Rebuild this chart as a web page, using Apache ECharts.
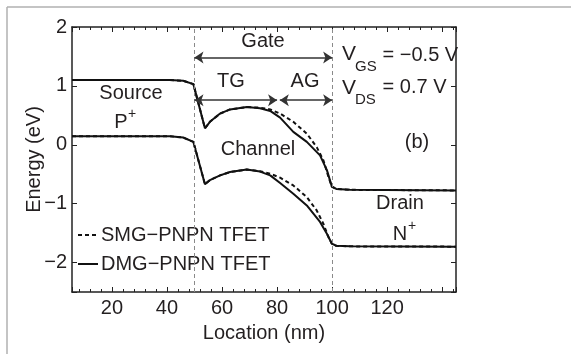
<!DOCTYPE html>
<html>
<head>
<meta charset="utf-8">
<script src="https://cdn.jsdelivr.net/npm/echarts@6/dist/echarts.min.js"></script>
<style>
html,body{margin:0;padding:0;background:#fff}
#chart{width:571px;height:354px}
</style>
</head>
<body>
<div id="chart"></div>
<script>
// band edges (eV) along the device (nm)
var xDMG = [5.5, 41.1, 45.9, 49.6, 53.8, 55.6, 59.3, 62.9, 69, 73.8, 77.5, 81.1, 85.9, 90.8, 95.6, 98.1, 99.9, 101.5, 106.5, 145];
var ecDMG = [1.10, 1.10, 1.086, 1.03, 0.28, 0.39, 0.53, 0.60, 0.64, 0.62, 0.575, 0.46, 0.22, 0.05, -0.18, -0.43, -0.71, -0.75, -0.765, -0.775];
var evDMG = [0.145, 0.145, 0.123, 0.048, -0.67, -0.60, -0.52, -0.463, -0.42, -0.455, -0.52, -0.65, -0.83, -1.03, -1.31, -1.51, -1.68, -1.715, -1.725, -1.73];

var xSMG = [5.5, 41.1, 45.9, 49.6, 53.8, 55.6, 59.3, 62.9, 69, 73.8, 77.5, 81.1, 85.9, 90.8, 94.4, 96.8, 98.7, 99.9, 101.5, 106.5, 145];
var ecSMG = [1.10, 1.10, 1.086, 1.03, 0.28, 0.39, 0.53, 0.60, 0.64, 0.63, 0.60, 0.53, 0.39, 0.19, -0.04, -0.26, -0.55, -0.71, -0.75, -0.765, -0.775];
var evSMG = [0.145, 0.145, 0.123, 0.048, -0.67, -0.60, -0.52, -0.463, -0.42, -0.45, -0.49, -0.558, -0.69, -0.889, -1.115, -1.34, -1.57, -1.68, -1.715, -1.725, -1.73];

var xLabels = [20, 40, 60, 80, 100, 120];
var yLabels = [-2, -1, 0, 1, 2];
var regionEdges = [50, 100];          // dashed lines: source/channel, channel/drain
var gateArrow = [50, 100, 1.48];      // from, to, level
var tgArrow = [50, 80, 0.757];
var agArrow = [81, 100, 0.757];

var FONT = "'Liberation Sans', Arial, sans-serif";
var INK = '#231f20';

var pairs = function(xs, ys){
  var out = [];
  for(var i=0;i<xs.length;i++){ out.push([xs[i], ys[i]]); }
  return out;
};

var txt = function(s, x, y, size, align){
  return {type:'text', x:x, y:y, silent:true, z:100,
    style:{text:s, fill:INK, font: size+'px '+FONT, align: align||'center', verticalAlign:'middle'}};
};

var arrowItem = function(a){
  return [{coord:[a[0], a[2]], symbol:'arrow'}, {coord:[a[1], a[2]], symbol:'arrow'}];
};

var dashStyle = {color:'#111', width:2, type:[4,3]};
var solidStyle = {color:'#111', width:2};

var myChart = echarts.init(document.getElementById('chart'));
var option = {
  animation:false,
  backgroundColor:'#fff',
  grid:{left:72, top:27, right:115, bottom:62},
  legend:{
    left:77, top:225, padding:0, orient:'vertical', selectedMode:false,
    itemWidth:20, itemHeight:14, itemGap:9,
    itemStyle:{opacity:0},
    data:['SMG\u2212PNPN TFET','DMG\u2212PNPN TFET'],
    textStyle:{fontSize:20, color:INK, fontFamily:FONT, padding:[0,0,0,-2]}
  },
  xAxis:[{
    type:'value', min:5.5, max:145, splitNumber:7, position:'bottom',
    name:'Location (nm)', nameLocation:'middle', nameGap:31, nameMoveOverlap:false,
    nameTextStyle:{fontSize:20, color:INK, fontFamily:FONT},
    axisLine:{onZero:false, lineStyle:{color:'#222', width:1.5}},
    axisTick:{inside:true, length:5, lineStyle:{color:'#222'}},
    minorTick:{show:true, splitNumber:5, length:3, lineStyle:{color:'#222'}},
    splitLine:{show:false},
    axisLabel:{fontSize:20, color:INK, fontFamily:FONT, margin:6,
      formatter:function(v){ return xLabels.indexOf(v) >= 0 ? String(v) : ''; }}
  },{
    type:'value', min:5.5, max:145, splitNumber:7, position:'top',
    axisLine:{onZero:false, lineStyle:{color:'#222', width:1.5}},
    axisTick:{inside:true, length:5, lineStyle:{color:'#222'}},
    minorTick:{show:true, splitNumber:5, length:3, lineStyle:{color:'#222'}},
    splitLine:{show:false}, axisLabel:{show:false}
  }],
  yAxis:[{
    type:'value', min:-2.5, max:2, splitNumber:5, position:'left',
    name:'Energy (eV)', nameLocation:'middle', nameGap:28, nameMoveOverlap:false,
    nameTextStyle:{fontSize:20, color:INK, fontFamily:FONT},
    axisLine:{show:true, onZero:false, lineStyle:{color:'#222', width:1.5}},
    axisTick:{show:true, inside:true, length:5, lineStyle:{color:'#222'}},
    splitLine:{show:false},
    axisLabel:{fontSize:20, color:INK, fontFamily:FONT, margin:5,
      formatter:function(v){ return yLabels.indexOf(v) >= 0 ? String(v).replace('-', '\u2212') : ''; }}
  },{
    type:'value', min:-2.5, max:2, splitNumber:5, position:'right',
    axisLine:{show:true, onZero:false, lineStyle:{color:'#222', width:1.5}},
    axisTick:{show:true, inside:true, length:5, lineStyle:{color:'#222'}},
    splitLine:{show:false}, axisLabel:{show:false}
  }],
  series:[
    {name:'SMG\u2212PNPN TFET', type:'line', symbol:'none', data:pairs(xSMG, ecSMG), lineStyle:dashStyle, itemStyle:{color:'#111'}, z:3},
    {name:'SMG\u2212PNPN TFET', type:'line', symbol:'none', data:pairs(xSMG, evSMG), lineStyle:dashStyle, itemStyle:{color:'#111'}, z:3},
    {name:'DMG\u2212PNPN TFET', type:'line', symbol:'none', data:pairs(xDMG, ecDMG), lineStyle:solidStyle, itemStyle:{color:'#111'}, z:4},
    {name:'DMG\u2212PNPN TFET', type:'line', symbol:'none', data:pairs(xDMG, evDMG), lineStyle:solidStyle, itemStyle:{color:'#111'}, z:4},
    {name:'edges', type:'line', data:[], silent:true,
      markLine:{silent:true, symbol:['none','none'], label:{show:false},
        lineStyle:{color:'#8a8a8a', width:1, type:[4,3]},
        emphasis:{disabled:true},
        data:[{xAxis:regionEdges[0]}, {xAxis:regionEdges[1]}]}},
    {name:'arrows', type:'line', data:[], silent:true,
      markLine:{silent:true, symbolSize:9, label:{show:false},
        lineStyle:{color:'#333', width:1.5, type:'solid'},
        emphasis:{disabled:true},
        data:[arrowItem(gateArrow), arrowItem(tgArrow), arrowItem(agArrow)]}}
  ],
  graphic:[
    {type:'line', silent:true, shape:{x1:7, y1:7, x2:571, y2:7}, style:{stroke:'#b0b0b0', lineWidth:1.5}},
    {type:'line', silent:true, shape:{x1:7, y1:7, x2:7, y2:354}, style:{stroke:'#b0b0b0', lineWidth:1.5}},
    txt('Gate', 263, 41, 20),
    txt('TG', 231, 81, 20),
    txt('AG', 305, 81, 20),
    txt('V', 342, 54, 21, 'left'),
    txt('GS', 355, 67, 15, 'left'),
    txt(' = \u22120.5 V', 377, 55, 20, 'left'),
    txt('V', 342, 88, 21, 'left'),
    txt('DS', 355, 100, 15, 'left'),
    txt(' = 0.7 V', 377, 87, 20, 'left'),
    txt('(b)', 417, 142, 20),
    txt('Source', 131, 93, 20),
    txt('P', 121, 122, 20),
    txt('+', 132, 114, 14),
    txt('Channel', 258, 149, 20),
    txt('Drain', 400, 203, 20),
    txt('N', 400, 234, 20),
    txt('+', 412, 226, 14)
  ]
};
myChart.setOption(option);
</script>
</body>
</html>
